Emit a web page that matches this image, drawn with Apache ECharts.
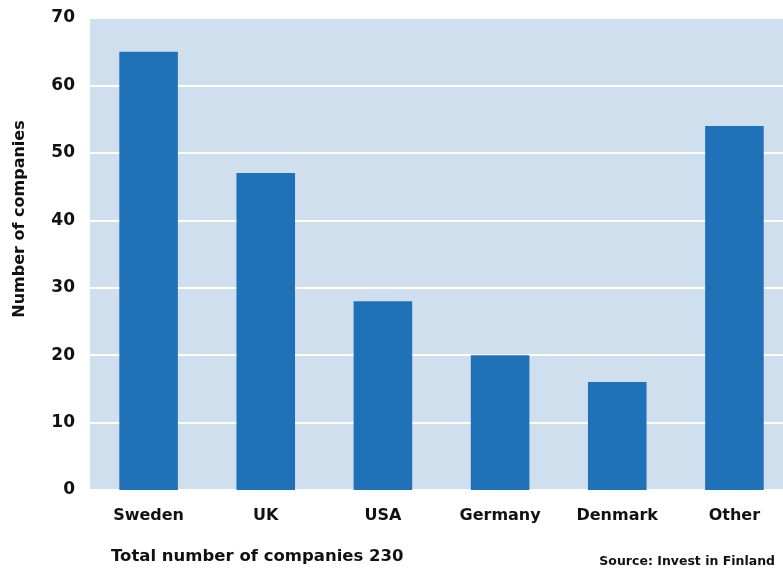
<!DOCTYPE html>
<html>
<head>
<meta charset="utf-8">
<script src="https://cdn.jsdelivr.net/npm/echarts@6/dist/echarts.min.js"></script>
<style>
  html, body { margin: 0; padding: 0; background: #fff; overflow: hidden; }
  /* plot runs past the right edge of the window, as in the original */
  #chart { width: 793px; height: 572px; }
</style>
</head>
<body>
<div id="chart"></div>
<script>
// countries and number of companies
const countries = ['Sweden', 'UK', 'USA', 'Germany', 'Denmark', 'Other'];
const companies = [65, 47, 28, 20, 16, 54];
const yTicks = [0, 10, 20, 30, 40, 50, 60, 70];

const chart = echarts.init(document.getElementById('chart'));
const font = '"DejaVu Sans", sans-serif';

const option = {
  animation: false,
  grid: {
    left: 90, right: 0, top: 18, bottom: 82,
    show: true, backgroundColor: '#cfdfed', borderWidth: 0
  },
  xAxis: {
    type: 'category',
    data: countries,
    axisLine: { show: false },
    axisTick: { show: false },
    axisLabel: {
      margin: 18, color: '#111', fontFamily: font, fontWeight: 'bold', fontSize: 16
    }
  },
  yAxis: {
    type: 'value',
    min: yTicks[0],
    max: yTicks[yTicks.length - 1],
    interval: 10,
    axisLine: { show: false },
    axisTick: { show: false },
    splitLine: { lineStyle: { color: '#ffffff', width: 2 } },
    axisLabel: {
      margin: 15, color: '#111', fontFamily: font, fontWeight: 'bold', fontSize: 17
    }
  },
  series: [{
    type: 'bar',
    data: companies,
    barWidth: '50%',
    itemStyle: { color: '#1f72b8' }
  }],
  graphic: [
    {
      type: 'text', x: 20, y: 219, rotation: Math.PI / 2,
      style: {
        text: 'Number of companies', fill: '#111', font: 'bold 16px ' + font,
        align: 'center', verticalAlign: 'middle'
      }
    },
    {
      type: 'text', x: 111, y: 557,
      style: {
        text: 'Total number of companies 230', fill: '#111', font: 'bold 16.5px ' + font,
        verticalAlign: 'middle'
      }
    },
    {
      type: 'text', x: 775, y: 562,
      style: {
        text: 'Source: Invest in Finland', fill: '#111', font: 'bold 12.5px ' + font,
        align: 'right', verticalAlign: 'middle'
      }
    }
  ]
};
chart.setOption(option);
</script>
</body>
</html>
